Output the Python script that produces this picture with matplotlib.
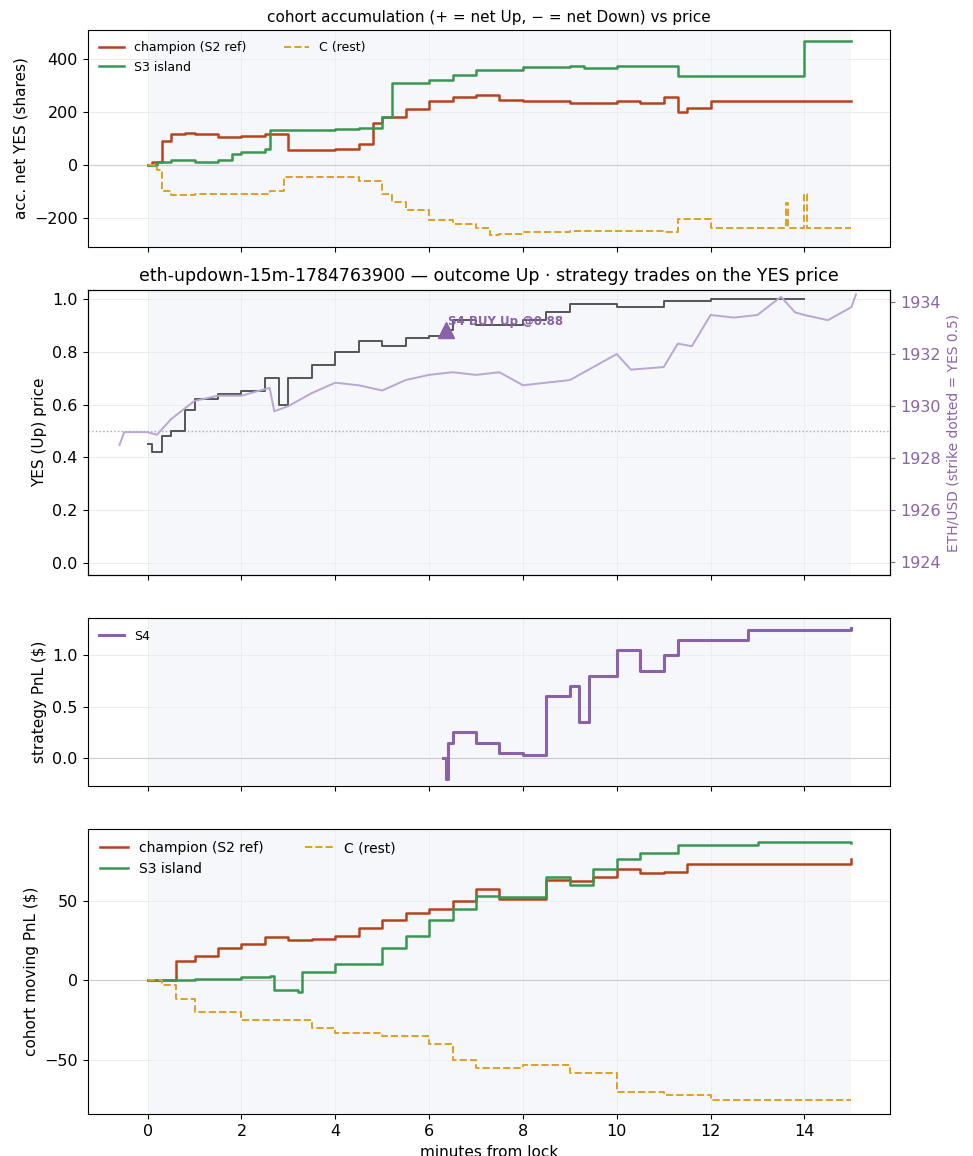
import numpy as np
import matplotlib.pyplot as plt

# cohort accumulation (shares)
champ_acc_t = [0, 0.1, 0.3, 0.5, 0.8, 1.0, 1.5, 2.0, 2.5, 3.0, 3.5, 4.0, 4.5, 4.8, 5.0, 5.5, 6.0, 6.5, 7.0, 7.5, 8.0, 9.0, 10.0, 10.5, 11.0, 11.3, 11.5, 12.0, 15.0]
champ_acc_v = [0, 10, 90, 115, 120, 115, 105, 110, 115, 55, 55, 60, 80, 160, 180, 210, 240, 255, 265, 245, 240, 235, 240, 235, 255, 200, 215, 240, 240]
s3_acc_t = [0, 0.2, 0.5, 1.0, 1.5, 1.8, 2.0, 2.5, 2.6, 3.5, 4.0, 4.5, 5.0, 5.2, 6.0, 6.5, 7.0, 8.0, 9.0, 9.3, 10.0, 11.3, 14.0, 15.0]
s3_acc_v = [0, 10, 20, 10, 20, 40, 50, 60, 130, 130, 135, 140, 180, 310, 320, 340, 360, 370, 375, 365, 375, 335, 470, 470]
c_acc_t = [0, 0.2, 0.3, 0.5, 1.0, 2.0, 2.6, 2.9, 3.5, 4.5, 5.0, 5.2, 5.5, 6.0, 6.5, 7.0, 7.3, 7.5, 8.0, 9.0, 10.0, 11.0, 11.3, 12.0, 13.6, 13.65, 14.0, 14.05, 15.0]
c_acc_v = [0, -20, -100, -115, -110, -110, -100, -45, -45, -60, -110, -140, -170, -210, -225, -240, -265, -260, -255, -250, -250, -255, -205, -240, -145, -240, -110, -240, -240]

# YES price and ETH price
yes_t = [0, 0.1, 0.3, 0.5, 0.8, 1.0, 1.5, 2.0, 2.5, 2.8, 3.0, 3.5, 4.0, 4.5, 5.0, 5.5, 6.0, 6.3, 6.5, 7.0, 7.5, 8.0, 8.5, 9.0, 10.0, 11.0, 12.0, 14.0]
yes_v = [0.45, 0.42, 0.48, 0.5, 0.58, 0.62, 0.64, 0.65, 0.70, 0.60, 0.70, 0.75, 0.80, 0.84, 0.82, 0.85, 0.86, 0.88, 0.92, 0.90, 0.90, 0.92, 0.95, 0.98, 0.97, 0.99, 1.0, 1.0]
eth_t = [-0.6, -0.5, 0, 0.2, 0.5, 1.0, 1.5, 2.0, 2.6, 2.7, 3.0, 3.5, 4.0, 4.5, 5.0, 5.5, 6.0, 6.5, 7.0, 7.5, 8.0, 9.0, 10.0, 10.3, 11.0, 11.3, 11.6, 12.0, 12.5, 13.0, 13.5, 13.8, 14.0, 14.5, 15.0, 15.1]
eth_v = [1928.5, 1929.0, 1929.0, 1928.9, 1929.5, 1930.2, 1930.4, 1930.4, 1930.7, 1929.8, 1930.0, 1930.5, 1930.9, 1930.8, 1930.6, 1931.0, 1931.2, 1931.3, 1931.2, 1931.3, 1930.8, 1931.0, 1932.0, 1931.4, 1931.5, 1932.4, 1932.3, 1933.5, 1933.4, 1933.5, 1934.2, 1933.6, 1933.5, 1933.3, 1933.8, 1934.3]

# S4 pnl
s4_t = [6.3, 6.35, 6.4, 6.5, 7.0, 7.5, 8.0, 8.5, 9.0, 9.2, 9.4, 10.0, 10.5, 11.0, 11.3, 12.8, 15.0]
s4_v = [0, -0.2, 0.15, 0.25, 0.15, 0.05, 0.03, 0.6, 0.7, 0.35, 0.8, 1.05, 0.85, 1.0, 1.15, 1.25, 1.27]

# cohort moving PnL
champ_pnl_t = [0, 0.6, 1.0, 1.5, 2.0, 2.5, 3.0, 3.5, 4.0, 4.5, 5.0, 5.5, 6.0, 6.5, 7.0, 7.5, 8.5, 9.0, 9.5, 10.0, 10.5, 11.0, 11.5, 15.0]
champ_pnl_v = [0, 12, 15, 20, 23, 27, 25, 26, 28, 33, 38, 42, 45, 50, 57, 51, 63, 62, 65, 70, 67, 68, 73, 76]
s3_pnl_t = [0, 1.0, 2.0, 2.6, 2.7, 3.2, 3.3, 4.0, 5.0, 5.5, 6.0, 6.5, 7.0, 7.5, 8.5, 9.0, 9.5, 10.0, 10.5, 11.3, 13.0, 15.0]
s3_pnl_v = [0, 1, 2, 3, -6, -7, 5, 10, 20, 28, 38, 45, 53, 52, 65, 60, 70, 76, 80, 85, 87, 86]
c_pnl_t = [0, 0.3, 0.6, 1.0, 2.0, 3.0, 3.5, 4.0, 5.0, 6.0, 6.5, 7.0, 8.0, 8.5, 9.0, 10.0, 10.5, 11.0, 12.0, 15.0]
c_pnl_v = [0, -3, -12, -20, -25, -25, -30, -33, -35, -40, -50, -55, -53, -53, -58, -70, -70, -72, -75, -75]

RED = '#b5441d'
GREEN = '#3a9651'
ORANGE = '#e0a020'
PURPLE = '#8a62aa'

plt.rcParams['xtick.labelsize'] = 11.5
plt.rcParams['ytick.labelsize'] = 11.5
plt.rcParams['axes.labelsize'] = 11

fig, axes = plt.subplots(4, 1, figsize=(9.73, 11.56), sharex=True,
                         gridspec_kw={'height_ratios': [2.2, 2.9, 1.7, 2.9]})
fig.subplots_adjust(left=0.09, right=0.915, top=0.974, bottom=0.036, hspace=0.18)

for ax in axes:
    ax.axvspan(0, 15, color='#eef1f9', alpha=0.55, lw=0)
    ax.grid(True, color='#e6e6e6', lw=0.6)
    ax.set_axisbelow(True)

ax = axes[0]
ax.axhline(0, color='#cccccc', lw=0.8)
ax.step(champ_acc_t, champ_acc_v, where='post', color=RED, lw=1.8, label='champion (S2 ref)')
ax.step(s3_acc_t, s3_acc_v, where='post', color=GREEN, lw=1.8, label='S3 island')
ax.step(c_acc_t, c_acc_v, where='post', color=ORANGE, lw=1.4, ls='--', label='C (rest)')
ax.set_ylabel('acc. net YES (shares)')
ax.set_title('cohort accumulation (+ = net Up, \u2212 = net Down) vs price', fontsize=11)
ax.set_ylim(-310, 510)
ax.set_yticks([-200, 0, 200, 400])
ax.legend(loc='upper left', ncol=2, frameon=False, fontsize=9, columnspacing=3)

ax = axes[1]
ax2 = ax.twinx()
ax2.plot(eth_t, eth_v, color='#b9a6d3', lw=1.4)
ax2.set_ylim(1923.5, 1934.47)
ax2.set_yticks([1924, 1926, 1928, 1930, 1932, 1934])
ax2.set_ylabel('ETH/USD (strike dotted = YES 0.5)', color=PURPLE, fontsize=10)
ax2.tick_params(axis='y', colors=PURPLE, labelsize=11.5)
ax.axhline(0.5, color='#b0a0c0', lw=1, ls=':')
ax.step(yes_t, yes_v, where='post', color='#555555', lw=1.4)
ax.plot([6.35], [0.88], marker='^', ms=12, color=PURPLE, ls='')
ax.text(6.4, 0.89, 'S4 BUY Up @0.88', color=PURPLE, fontsize=8.5, fontweight='bold', va='bottom')
ax.set_ylim(-0.046, 1.034)
ax.set_ylabel('YES (Up) price')
ax.set_title('eth-updown-15m-1784763900 \u2014 outcome Up \u00b7 strategy trades on the YES price', fontsize=12.5)

ax = axes[2]
ax.axhline(0, color='#cccccc', lw=0.8)
ax.step(s4_t, s4_v, where='post', color=PURPLE, lw=2.2, label='S4')
ax.set_ylim(-0.27, 1.36)
ax.set_yticks([0.0, 0.5, 1.0])
ax.set_ylabel('strategy PnL ($)')
ax.legend(loc='upper left', frameon=False, fontsize=9)

ax = axes[3]
ax.axhline(0, color='#cccccc', lw=0.8)
ax.step(champ_pnl_t, champ_pnl_v, where='post', color=RED, lw=1.8, label='champion (S2 ref)')
ax.step(s3_pnl_t, s3_pnl_v, where='post', color=GREEN, lw=1.8, label='S3 island')
ax.step(c_pnl_t, c_pnl_v, where='post', color=ORANGE, lw=1.4, ls='--', label='C (rest)')
ax.set_ylim(-84, 95)
ax.set_yticks([-50, 0, 50])
ax.set_ylabel('cohort moving PnL ($)')
ax.set_xlabel('minutes from lock')
ax.legend(loc='upper left', ncol=2, frameon=False, fontsize=10, columnspacing=3)
ax.set_xlim(-1.28, 15.83)
ax.set_xticks([0, 2, 4, 6, 8, 10, 12, 14])

plt.savefig('out.png', dpi=100)
